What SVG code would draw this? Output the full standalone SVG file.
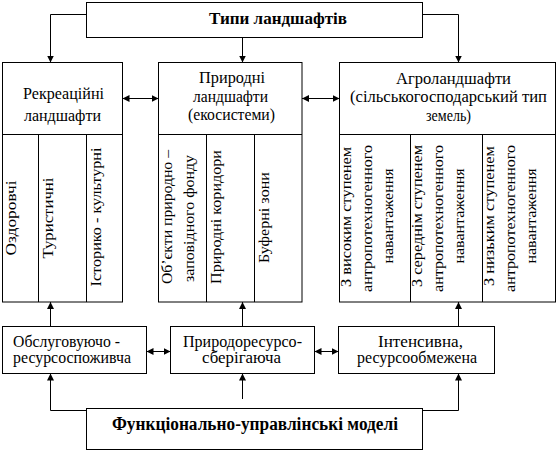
<svg xmlns="http://www.w3.org/2000/svg" width="558" height="453" viewBox="0 0 558 453">
<style>
.box, line.b { fill: #fff; stroke: #000; stroke-width: 1; }
.cn path { fill: none; stroke: #000; stroke-width: 1; }
text { font-family: "Liberation Serif", "Times New Roman", serif; fill: #000; }
.h { font-size: 16px; text-anchor: middle; }
.v { font-size: 14px; text-anchor: middle; }
.t { font-size: 16px; font-weight: bold; text-anchor: middle; }
.t2 { font-size: 18px; font-weight: bold; text-anchor: middle; }
.s { font-size: 16px; text-anchor: start; }
</style>
<defs>
<marker id="ah" viewBox="0 0 7 7" refX="7" refY="3.5" markerWidth="7" markerHeight="7" markerUnits="userSpaceOnUse" orient="auto-start-reverse">
<path d="M0,0 L7,3.5 L0,7 z" fill="#000"/>
</marker>
</defs>
<rect width="558" height="453" style="fill:#fff;stroke:none"/>

<g id="types">
<rect class="box" x="86.5" y="2.5" width="336" height="35"/>
<text class="t" x="278" y="23.5" textLength="138" lengthAdjust="spacingAndGlyphs">Типи ландшафтів</text>
</g>

<g id="recreational">
<rect class="box" x="2.5" y="62.5" width="120" height="239.5"/>
<line class="b" x1="2.5" y1="134.5" x2="122.5" y2="134.5"/>
<line class="b" x1="38.5" y1="134.5" x2="38.5" y2="302"/>
<line class="b" x1="86.5" y1="134.5" x2="86.5" y2="302"/>
<text class="h" x="63.5" y="99" textLength="81" lengthAdjust="spacingAndGlyphs">Рекреаційні</text>
<text class="h" x="62.5" y="121" textLength="77" lengthAdjust="spacingAndGlyphs">ландшафти</text>
<text class="v" transform="translate(16,218) rotate(-90)" textLength="75" lengthAdjust="spacingAndGlyphs">Оздоровчі</text>
<text class="v" transform="translate(53,218) rotate(-90)" textLength="81" lengthAdjust="spacingAndGlyphs">Туристичні</text>
<text class="v" transform="translate(101,217) rotate(-90)" textLength="139" lengthAdjust="spacingAndGlyphs">Історико - культурні</text>
</g>

<g id="natural">
<rect class="box" x="158.5" y="62.5" width="143.5" height="239.5"/>
<line class="b" x1="158.5" y1="134.5" x2="302" y2="134.5"/>
<line class="b" x1="206.5" y1="134.5" x2="206.5" y2="302"/>
<line class="b" x1="254.5" y1="134.5" x2="254.5" y2="302"/>
<text class="h" x="232" y="83" textLength="66" lengthAdjust="spacingAndGlyphs">Природні</text>
<text class="h" x="230.5" y="102" textLength="75" lengthAdjust="spacingAndGlyphs">ландшафти</text>
<text class="h" x="231.5" y="120" textLength="87" lengthAdjust="spacingAndGlyphs">(екосистеми)</text>
<text class="v" transform="translate(172,217) rotate(-90)" textLength="134" lengthAdjust="spacingAndGlyphs">Об’єкти природно –</text>
<text class="v" transform="translate(193.5,218.5) rotate(-90)" textLength="127" lengthAdjust="spacingAndGlyphs">заповідного фонду</text>
<text class="v" transform="translate(221,217) rotate(-90)" textLength="134" lengthAdjust="spacingAndGlyphs">Природні коридори</text>
<text class="v" transform="translate(269,217.5) rotate(-90)" textLength="91" lengthAdjust="spacingAndGlyphs">Буферні зони</text>
</g>

<g id="agro">
<rect class="box" x="339.5" y="62.5" width="216" height="239.5"/>
<line class="b" x1="339.5" y1="134.5" x2="555.5" y2="134.5"/>
<line class="b" x1="410.5" y1="134.5" x2="410.5" y2="302"/>
<line class="b" x1="482.5" y1="134.5" x2="482.5" y2="302"/>
<text class="h" x="453.5" y="83.5" textLength="115" lengthAdjust="spacingAndGlyphs">Агроландшафти</text>
<text class="h" x="448.5" y="101.5" textLength="197" lengthAdjust="spacingAndGlyphs">(сільськогосподарський тип</text>
<text class="h" x="448.5" y="121" textLength="45" lengthAdjust="spacingAndGlyphs">земель)</text>
<text class="v" transform="translate(351,217) rotate(-90)" textLength="140" lengthAdjust="spacingAndGlyphs">З високим ступенем</text>
<text class="v" transform="translate(372,218.5) rotate(-90)" textLength="147" lengthAdjust="spacingAndGlyphs">антропотехногенного</text>
<text class="v" transform="translate(393,216) rotate(-90)" textLength="95" lengthAdjust="spacingAndGlyphs">навантаження</text>
<text class="v" transform="translate(422,216) rotate(-90)" textLength="142" lengthAdjust="spacingAndGlyphs">З середнім ступенем</text>
<text class="v" transform="translate(443,218.5) rotate(-90)" textLength="147" lengthAdjust="spacingAndGlyphs">антропотехногенного</text>
<text class="v" transform="translate(464,216) rotate(-90)" textLength="95" lengthAdjust="spacingAndGlyphs">навантаження</text>
<text class="v" transform="translate(494,216) rotate(-90)" textLength="140" lengthAdjust="spacingAndGlyphs">З низьким ступенем</text>
<text class="v" transform="translate(515,218.5) rotate(-90)" textLength="147" lengthAdjust="spacingAndGlyphs">антропотехногенного</text>
<text class="v" transform="translate(536,216) rotate(-90)" textLength="95" lengthAdjust="spacingAndGlyphs">навантаження</text>
</g>

<g id="serving">
<rect class="box" x="2.5" y="326.5" width="144" height="47"/>
<text class="s" x="13" y="347" textLength="107" lengthAdjust="spacingAndGlyphs">Обслуговуючо -</text>
<text class="s" x="13" y="363" textLength="118" lengthAdjust="spacingAndGlyphs">ресурсоспоживча</text>
</g>

<g id="conserving">
<rect class="box" x="170.5" y="326.5" width="144" height="47"/>
<text class="h" x="242.5" y="347" textLength="119" lengthAdjust="spacingAndGlyphs">Природоресурсо-</text>
<text class="h" x="241.5" y="363" textLength="79" lengthAdjust="spacingAndGlyphs">сберігаюча</text>
</g>

<g id="intensive">
<rect class="box" x="338.5" y="326.5" width="156" height="47"/>
<text class="h" x="420.5" y="347" textLength="85" lengthAdjust="spacingAndGlyphs">Інтенсивна,</text>
<text class="h" x="417" y="363" textLength="120" lengthAdjust="spacingAndGlyphs">ресурсообмежена</text>
</g>

<g id="models">
<rect class="box" x="86.5" y="408.5" width="336" height="41"/>
<text class="t2" x="255" y="430" textLength="286" lengthAdjust="spacingAndGlyphs">Функціонально-управлінські моделі</text>
</g>

<g id="connectors" class="cn">
<path d="M86.5,14.5 H50.5 V62.5" marker-end="url(#ah)"/>
<path d="M242.5,37.5 V62.5" marker-end="url(#ah)"/>
<path d="M422.5,14.5 H458.5 V62.5" marker-end="url(#ah)"/>
<path d="M122.5,98.5 H158.5" marker-start="url(#ah)" marker-end="url(#ah)"/>
<path d="M302,98.5 H339.5" marker-start="url(#ah)" marker-end="url(#ah)"/>
<path d="M50.5,326.5 V302" marker-end="url(#ah)"/>
<path d="M242.5,326.5 V302" marker-end="url(#ah)"/>
<path d="M458.5,326.5 V302" marker-end="url(#ah)"/>
<path d="M146.5,351.5 H170.5" marker-start="url(#ah)" marker-end="url(#ah)"/>
<path d="M314.5,351.5 H338.5" marker-start="url(#ah)" marker-end="url(#ah)"/>
<path d="M86.5,410.5 H50.5 V373.5" marker-end="url(#ah)"/>
<path d="M242.5,399 V373.5" marker-end="url(#ah)"/>
<path d="M422.5,410.5 H458.5 V373.5" marker-end="url(#ah)"/>
</g>
</svg>
